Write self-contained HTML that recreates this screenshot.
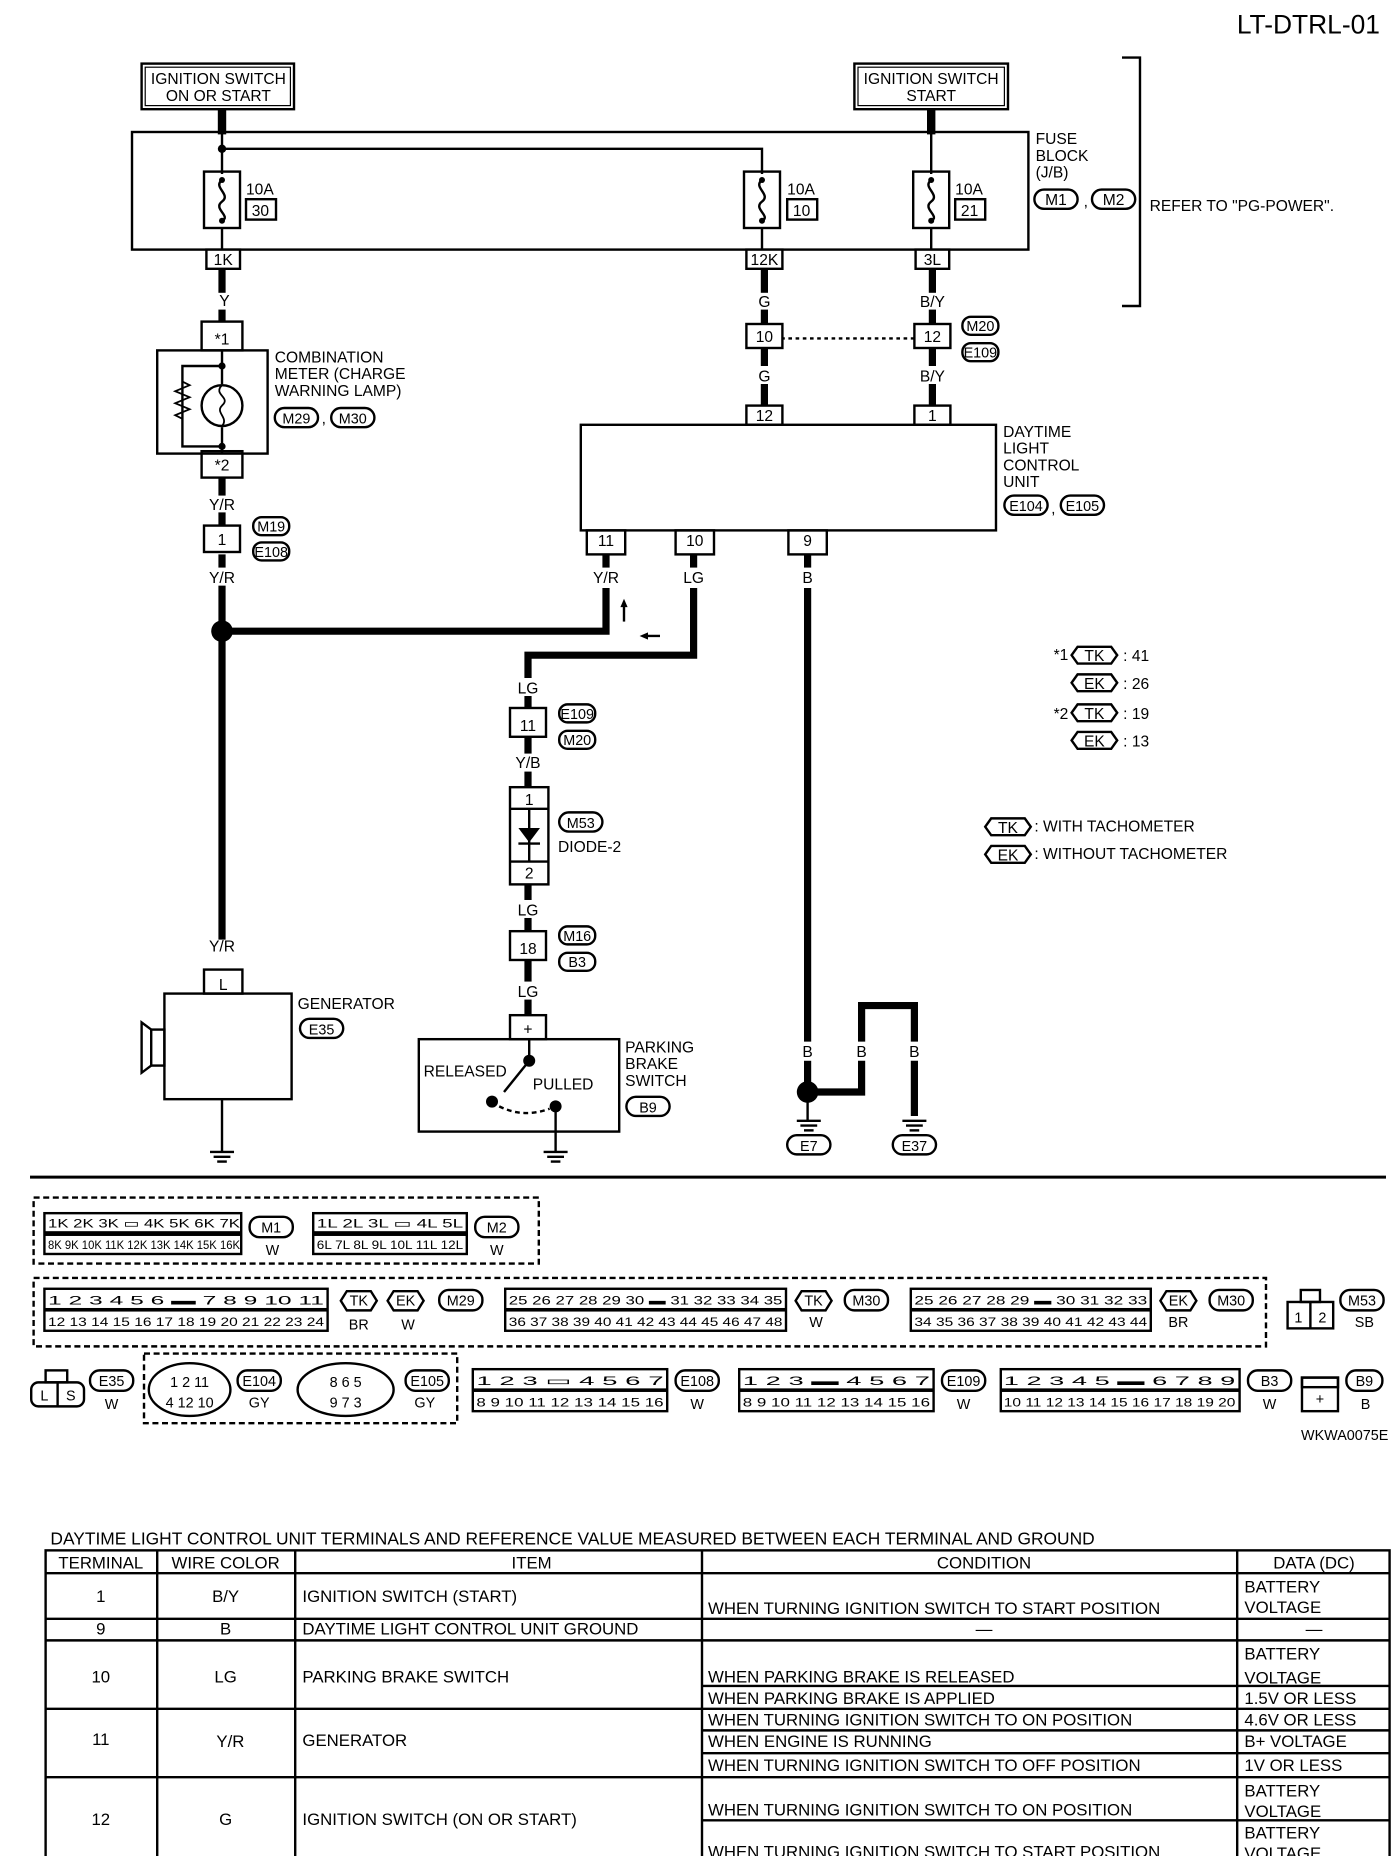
<!DOCTYPE html>
<html><head><meta charset="utf-8"><style>
html,body{margin:0;padding:0;background:#fff}
svg{display:block}
text{font-family:"Liberation Sans",sans-serif;fill:#000}
</style></head><body>
<svg width="1392" height="1856" viewBox="0 0 1160 1546.7" xmlns="http://www.w3.org/2000/svg">
<g font-size="13">
<text x="1150" y="28" font-size="22" text-anchor="end">LT-DTRL-01</text>

<rect x="118" y="53" width="127" height="38" fill="none" stroke="#000" stroke-width="2"/>
<rect x="121" y="56" width="121" height="32" fill="none" stroke="#000" stroke-width="1"/>
<text x="182" y="70" text-anchor="middle">IGNITION SWITCH</text>
<text x="182" y="84" text-anchor="middle">ON OR START</text>
<rect x="712" y="53" width="128" height="38" fill="none" stroke="#000" stroke-width="2"/>
<rect x="715" y="56" width="122" height="32" fill="none" stroke="#000" stroke-width="1"/>
<text x="776" y="70" text-anchor="middle">IGNITION SWITCH</text>
<text x="776" y="84" text-anchor="middle">START</text>
<line x1="185" y1="91" x2="185" y2="112" stroke="#000" stroke-width="7"/>
<line x1="776" y1="91" x2="776" y2="112" stroke="#000" stroke-width="7"/>

<rect x="110" y="110" width="747" height="98" fill="none" stroke="#000" stroke-width="2"/>
<polyline points="185,110 185,124 635,124 635,145" fill="none" stroke="#000" stroke-width="2"/>
<circle cx="185" cy="124" r="3.5"/>
<line x1="185" y1="124" x2="185" y2="145" stroke="#000" stroke-width="2"/>
<line x1="776" y1="110" x2="776" y2="145" stroke="#000" stroke-width="2"/>
<g stroke="#000" fill="none" stroke-width="2">
<rect x="170" y="143" width="30" height="47"/><rect x="620" y="143" width="30" height="47"/><rect x="761" y="143" width="30" height="47"/>
<path d="M185,150 c-8,6 8,12 0,18 c-8,6 8,12 0,16"/>
<path d="M635,150 c-8,6 8,12 0,18 c-8,6 8,12 0,16"/>
<path d="M776,150 c-8,6 8,12 0,18 c-8,6 8,12 0,16"/>
<line x1="185" y1="190" x2="185" y2="210"/><line x1="635" y1="190" x2="635" y2="210"/><line x1="776" y1="190" x2="776" y2="210"/>
<rect x="205" y="166" width="25" height="17"/><rect x="656" y="166" width="25" height="17"/><rect x="796" y="166" width="25" height="17"/>
</g>
<text x="205" y="162">10A</text><text x="656" y="162">10A</text><text x="796" y="162">10A</text>
<text x="217" y="180" text-anchor="middle">30</text><text x="668" y="180" text-anchor="middle">10</text><text x="808" y="180" text-anchor="middle">21</text>
<circle cx="185" cy="150" r="2.5"/><circle cx="185" cy="184" r="2.5"/><circle cx="635" cy="150" r="2.5"/><circle cx="635" cy="184" r="2.5"/><circle cx="776" cy="150" r="2.5"/><circle cx="776" cy="184" r="2.5"/>
<text x="863" y="120">FUSE</text><text x="863" y="134">BLOCK</text><text x="863" y="148">(J/B)</text>
<rect x="862" y="158" width="36" height="16" rx="8" fill="none" stroke="#000" stroke-width="2"/><text x="880" y="171" text-anchor="middle">M1</text>
<text x="903" y="172">,</text>
<rect x="910" y="158" width="36" height="16" rx="8" fill="none" stroke="#000" stroke-width="2"/><text x="928" y="171" text-anchor="middle">M2</text>
<text x="958" y="176">REFER TO "PG-POWER".</text>
<polyline points="935,48 950,48 950,255 935,255" fill="none" stroke="#000" stroke-width="2"/>

<g stroke="#000" stroke-width="2" fill="#fff">
<rect x="172" y="208" width="28" height="16"/><rect x="622" y="208" width="30" height="16"/><rect x="763" y="208" width="28" height="16"/>
</g>
<text x="186" y="221" text-anchor="middle">1K</text><text x="637" y="221" text-anchor="middle">12K</text><text x="777" y="221" text-anchor="middle">3L</text>

<g stroke="#000" stroke-width="6" fill="none">
<line x1="185" y1="224" x2="185" y2="244"/><line x1="185" y1="258" x2="185" y2="268"/>
<line x1="637" y1="224" x2="637" y2="244"/><line x1="637" y1="258" x2="637" y2="270"/>
<line x1="777" y1="224" x2="777" y2="244"/><line x1="777" y1="258" x2="777" y2="270"/>
<line x1="637" y1="290" x2="637" y2="305"/><line x1="637" y1="320" x2="637" y2="338"/>
<line x1="777" y1="290" x2="777" y2="305"/><line x1="777" y1="320" x2="777" y2="338"/>
<line x1="185" y1="398" x2="185" y2="413"/><line x1="185" y1="427" x2="185" y2="438"/>
<line x1="185" y1="462" x2="185" y2="473"/><line x1="185" y1="488" x2="185" y2="783"/>
<line x1="505" y1="462" x2="505" y2="473"/><line x1="578" y1="462" x2="578" y2="473"/><line x1="673" y1="462" x2="673" y2="473"/>
<polyline points="185,526 505,526 505,490"/>
<polyline points="578,490 578,546 440,546 440,565"/>
<line x1="440" y1="580" x2="440" y2="590"/><line x1="440" y1="614" x2="440" y2="628"/><line x1="440" y1="643" x2="440" y2="656"/>
<line x1="440" y1="737" x2="440" y2="750"/><line x1="440" y1="765" x2="440" y2="776"/><line x1="440" y1="800" x2="440" y2="818"/><line x1="440" y1="833" x2="440" y2="846"/>
<line x1="673" y1="490" x2="673" y2="868"/>
<line x1="673" y1="884" x2="673" y2="910"/>
<polyline points="676,910 718,910 718,884"/>
<polyline points="718,868 718,838 762,838 762,868"/>
<line x1="762" y1="884" x2="762" y2="930"/>
</g>
<circle cx="185" cy="526" r="9"/>
<circle cx="673" cy="910" r="9"/>
<text x="187" y="255" text-anchor="middle">Y</text><text x="637" y="256" text-anchor="middle">G</text><text x="777" y="256" text-anchor="middle">B/Y</text>
<text x="637" y="318" text-anchor="middle">G</text><text x="777" y="318" text-anchor="middle">B/Y</text>
<text x="185" y="425" text-anchor="middle">Y/R</text><text x="185" y="486" text-anchor="middle">Y/R</text>
<text x="505" y="486" text-anchor="middle">Y/R</text><text x="578" y="486" text-anchor="middle">LG</text><text x="673" y="486" text-anchor="middle">B</text>
<text x="440" y="578" text-anchor="middle">LG</text><text x="440" y="640" text-anchor="middle">Y/B</text>
<text x="440" y="763" text-anchor="middle">LG</text><text x="440" y="831" text-anchor="middle">LG</text>
<text x="185" y="793" text-anchor="middle">Y/R</text>
<text x="673" y="881" text-anchor="middle">B</text><text x="718" y="881" text-anchor="middle">B</text><text x="762" y="881" text-anchor="middle">B</text>
<line x1="520" y1="518" x2="520" y2="503" stroke="#000" stroke-width="2"/><path d="M520,499 l-3,7 h6z"/>
<line x1="550" y1="530" x2="537" y2="530" stroke="#000" stroke-width="2"/><path d="M533,530 l7,-3 v6z"/>
<line x1="645" y1="282" x2="768" y2="282" stroke="#000" stroke-width="2" stroke-dasharray="3,3"/>

<g stroke="#000" stroke-width="2" fill="#fff">
<rect x="622" y="270" width="30" height="20"/><rect x="762" y="270" width="30" height="20"/>
<rect x="622" y="338" width="30" height="16"/><rect x="762" y="338" width="30" height="16"/>
<rect x="170" y="438" width="30" height="22"/>
<rect x="425" y="590" width="30" height="24"/>
<rect x="425" y="776" width="30" height="24"/>
<rect x="168" y="268" width="34" height="24"/><rect x="168" y="376" width="34" height="22"/>
<rect x="489" y="442" width="32" height="20"/><rect x="563" y="442" width="32" height="20"/><rect x="657" y="442" width="32" height="20"/>
<rect x="170" y="808" width="32" height="20"/>
<rect x="425" y="846" width="30" height="20"/>
</g>
<text x="637" y="285" text-anchor="middle">10</text><text x="777" y="285" text-anchor="middle">12</text>
<text x="637" y="351" text-anchor="middle">12</text><text x="777" y="351" text-anchor="middle">1</text>
<text x="185" y="454" text-anchor="middle">1</text><text x="440" y="609" text-anchor="middle">11</text><text x="440" y="795" text-anchor="middle">18</text>
<text x="185" y="287" text-anchor="middle">*1</text><text x="185" y="392" text-anchor="middle">*2</text>
<text x="505" y="455" text-anchor="middle">11</text><text x="579" y="455" text-anchor="middle">10</text><text x="673" y="455" text-anchor="middle">9</text>
<text x="186" y="825" text-anchor="middle">L</text><text x="440" y="862" text-anchor="middle">+</text>
<g font-size="12" text-anchor="middle">
<g stroke="#000" stroke-width="2" fill="none">
<rect x="802" y="264" width="30" height="15" rx="7"/><rect x="802" y="286" width="30" height="15" rx="7"/>
<rect x="211" y="431" width="30" height="15" rx="7"/><rect x="211" y="452" width="30" height="15" rx="7"/>
<rect x="466" y="587" width="30" height="15" rx="7"/><rect x="466" y="609" width="30" height="15" rx="7"/>
<rect x="466" y="677" width="36" height="16" rx="8"/>
<rect x="466" y="772" width="30" height="15" rx="7"/><rect x="466" y="794" width="30" height="15" rx="7"/>
<rect x="229" y="340" width="36" height="16" rx="8"/><rect x="276" y="340" width="36" height="16" rx="8"/>
<rect x="837" y="413" width="36" height="16" rx="8"/><rect x="884" y="413" width="36" height="16" rx="8"/>
<rect x="250" y="849" width="36" height="16" rx="8"/><rect x="522" y="914" width="36" height="16" rx="8"/>
<rect x="656" y="946" width="36" height="16" rx="8"/><rect x="744" y="946" width="36" height="16" rx="8"/>
</g>
<text x="817" y="276">M20</text><text x="817" y="298">E109</text><text x="226" y="443">M19</text><text x="226" y="464">E108</text>
<text x="481" y="599">E109</text><text x="481" y="621">M20</text><text x="484" y="690">M53</text><text x="481" y="784">M16</text><text x="481" y="806">B3</text>
<text x="247" y="353">M29</text><text x="294" y="353">M30</text><text x="855" y="426">E104</text><text x="902" y="426">E105</text>
<text x="268" y="862">E35</text><text x="540" y="927">B9</text><text x="674" y="959">E7</text><text x="762" y="959">E37</text>
</g>
<text x="268" y="353">,</text><text x="876" y="428">,</text>

<rect x="131" y="292" width="92" height="86" fill="none" stroke="#000" stroke-width="2"/>
<line x1="185" y1="292" x2="185" y2="320" stroke="#000" stroke-width="2"/><line x1="185" y1="356" x2="185" y2="378" stroke="#000" stroke-width="2"/>
<circle cx="185" cy="338" r="17" fill="none" stroke="#000" stroke-width="2"/>
<path d="M185,321 c-8,8 8,10 0,17 c-6,6 6,10 0,17" fill="none" stroke="#000" stroke-width="1.5"/>
<polyline points="185,305 152,305 152,372 185,372" fill="none" stroke="#000" stroke-width="2"/>
<path d="M152,318 l6,3 -12,5 12,5 -12,5 12,5 -12,5 6,3" fill="none" stroke="#000" stroke-width="1.5"/>
<circle cx="185" cy="305" r="3"/><circle cx="185" cy="372" r="3"/>
<text x="229" y="302">COMBINATION</text><text x="229" y="316">METER (CHARGE</text><text x="229" y="330">WARNING LAMP)</text>

<rect x="484" y="354" width="346" height="88" fill="none" stroke="#000" stroke-width="2"/>
<text x="836" y="364">DAYTIME</text><text x="836" y="378">LIGHT</text><text x="836" y="392">CONTROL</text><text x="836" y="406">UNIT</text>

<rect x="425" y="656" width="32" height="81" fill="none" stroke="#000" stroke-width="2"/>
<line x1="425" y1="674" x2="457" y2="674" stroke="#000" stroke-width="2"/><line x1="425" y1="718" x2="457" y2="718" stroke="#000" stroke-width="2"/>
<text x="441" y="671" text-anchor="middle">1</text><text x="441" y="732" text-anchor="middle">2</text>
<line x1="441" y1="674" x2="441" y2="718" stroke="#000" stroke-width="2"/>
<path d="M432,690 h18 l-9,12z"/><line x1="432" y1="703" x2="450" y2="703" stroke="#000" stroke-width="2"/>
<text x="465" y="710">DIODE-2</text>

<text x="878" y="550">*1</text><text x="878" y="599">*2</text>
<g stroke="#000" stroke-width="2" fill="none">
<path d="M898,539 h28 l5,7 -5,7 h-28 l-5,-7z"/><path d="M898,562 h28 l5,7 -5,7 h-28 l-5,-7z"/>
<path d="M898,587 h28 l5,7 -5,7 h-28 l-5,-7z"/><path d="M898,610 h28 l5,7 -5,7 h-28 l-5,-7z"/>
<path d="M826,682 h28 l5,7 -5,7 h-28 l-5,-7z"/><path d="M826,705 h28 l5,7 -5,7 h-28 l-5,-7z"/>
</g>
<text x="912" y="551" text-anchor="middle">TK</text><text x="912" y="574" text-anchor="middle">EK</text>
<text x="912" y="599" text-anchor="middle">TK</text><text x="912" y="622" text-anchor="middle">EK</text>
<text x="840" y="694" text-anchor="middle">TK</text><text x="840" y="717" text-anchor="middle">EK</text>
<text x="936" y="551">: 41</text><text x="936" y="574">: 26</text><text x="936" y="599">: 19</text><text x="936" y="622">: 13</text>
<text x="862" y="693">: WITH TACHOMETER</text><text x="862" y="716">: WITHOUT TACHOMETER</text>

<rect x="137" y="828" width="106" height="88" fill="none" stroke="#000" stroke-width="2"/>
<rect x="126" y="858" width="11" height="30" fill="none" stroke="#000" stroke-width="2"/>
<path d="M126,858 l-8,-6 v42 l8,-6" fill="none" stroke="#000" stroke-width="2"/>
<text x="248" y="841">GENERATOR</text>
<line x1="185" y1="916" x2="185" y2="960" stroke="#000" stroke-width="2"/>
<g stroke="#000" stroke-width="2"><line x1="175" y1="960" x2="195" y2="960"/><line x1="178" y1="964" x2="192" y2="964"/><line x1="181" y1="968" x2="189" y2="968"/>
<line x1="453" y1="960" x2="473" y2="960"/><line x1="456" y1="964" x2="470" y2="964"/><line x1="459" y1="968" x2="467" y2="968"/>
<line x1="664" y1="934" x2="684" y2="934"/><line x1="667" y1="938" x2="681" y2="938"/><line x1="670" y1="942" x2="678" y2="942"/>
<line x1="752" y1="934" x2="772" y2="934"/><line x1="755" y1="938" x2="769" y2="938"/><line x1="758" y1="942" x2="766" y2="942"/></g>
<line x1="673" y1="918" x2="673" y2="934" stroke="#000" stroke-width="2"/>

<rect x="349" y="866" width="167" height="77" fill="none" stroke="#000" stroke-width="2"/>
<line x1="441" y1="866" x2="441" y2="884" stroke="#000" stroke-width="2"/>
<circle cx="441" cy="884" r="5"/><circle cx="410" cy="918" r="5"/><circle cx="463" cy="922" r="5"/>
<line x1="441" y1="884" x2="420" y2="910" stroke="#000" stroke-width="2"/>
<path d="M416,922 q20,10 42,2" fill="none" stroke="#000" stroke-width="2" stroke-dasharray="4,3"/>
<line x1="463" y1="922" x2="463" y2="960" stroke="#000" stroke-width="2"/>
<text x="353" y="897">RELEASED</text><text x="444" y="908">PULLED</text>
<text x="521" y="877">PARKING</text><text x="521" y="891">BRAKE</text><text x="521" y="905">SWITCH</text>

<line x1="25" y1="981" x2="1155" y2="981" stroke="#000" stroke-width="2.5"/>
</g>

<g font-size="10" text-anchor="middle" stroke="none">
<rect x="28" y="998" width="421" height="55" fill="none" stroke="#000" stroke-width="2" stroke-dasharray="5,3"/>
<rect x="28" y="1065" width="1027" height="57" fill="none" stroke="#000" stroke-width="2" stroke-dasharray="5,3"/>
<rect x="120" y="1128" width="261" height="58" fill="none" stroke="#000" stroke-width="2" stroke-dasharray="5,3"/>
<rect x="36" y="1010" width="166" height="36" fill="#000"/>
<rect x="260" y="1010" width="130" height="36" fill="#000"/>
<rect x="36" y="1073" width="238" height="37" fill="#000"/>
<rect x="420" y="1073" width="236" height="37" fill="#000"/>
<rect x="758" y="1073" width="202" height="37" fill="#000"/>
<rect x="393" y="1140" width="164" height="37" fill="#000"/>
<rect x="615" y="1140" width="164" height="37" fill="#000"/>
<rect x="833" y="1140" width="201" height="37" fill="#000"/>
<g fill="#fff">
<rect x="38" y="1012" width="162" height="14"/><rect x="38" y="1030" width="162" height="14"/>
<rect x="262" y="1012" width="126" height="14"/><rect x="262" y="1030" width="126" height="14"/>
<rect x="38" y="1075" width="234" height="15"/><rect x="38" y="1093" width="234" height="15"/>
<rect x="422" y="1075" width="232" height="15"/><rect x="422" y="1093" width="232" height="15"/>
<rect x="760" y="1075" width="198" height="15"/><rect x="760" y="1093" width="198" height="15"/>
<rect x="395" y="1142" width="160" height="15"/><rect x="395" y="1160" width="160" height="15"/>
<rect x="617" y="1142" width="160" height="15"/><rect x="617" y="1160" width="160" height="15"/>
<rect x="835" y="1142" width="197" height="15"/><rect x="835" y="1160" width="197" height="15"/>
</g>
<text x="120" y="1023" textLength="160" lengthAdjust="spacingAndGlyphs">1K 2K 3K ▭ 4K 5K 6K 7K</text>
<text x="120" y="1041" textLength="160" lengthAdjust="spacingAndGlyphs">8K 9K 10K 11K 12K 13K 14K 15K 16K</text>
<text x="325" y="1023" textLength="122" lengthAdjust="spacingAndGlyphs">1L 2L 3L ▭ 4L 5L</text>
<text x="325" y="1041" textLength="122" lengthAdjust="spacingAndGlyphs">6L 7L 8L 9L 10L 11L 12L</text>
<text x="155" y="1087" textLength="230" lengthAdjust="spacingAndGlyphs">1 2 3 4 5 6 ▬ 7 8 9 10 11</text>
<text x="155" y="1105" textLength="230" lengthAdjust="spacingAndGlyphs">12 13 14 15 16 17 18 19 20 21 22 23 24</text>
<text x="538" y="1087" textLength="228" lengthAdjust="spacingAndGlyphs">25 26 27 28 29 30 ▬ 31 32 33 34 35</text>
<text x="538" y="1105" textLength="228" lengthAdjust="spacingAndGlyphs">36 37 38 39 40 41 42 43 44 45 46 47 48</text>
<text x="859" y="1087" textLength="194" lengthAdjust="spacingAndGlyphs">25 26 27 28 29 ▬ 30 31 32 33</text>
<text x="859" y="1105" textLength="194" lengthAdjust="spacingAndGlyphs">34 35 36 37 38 39 40 41 42 43 44</text>
<text x="475" y="1154" textLength="156" lengthAdjust="spacingAndGlyphs">1 2 3 ▭ 4 5 6 7</text>
<text x="475" y="1172" textLength="156" lengthAdjust="spacingAndGlyphs">8 9 10 11 12 13 14 15 16</text>
<text x="697" y="1154" textLength="156" lengthAdjust="spacingAndGlyphs">1 2 3 ▬ 4 5 6 7</text>
<text x="697" y="1172" textLength="156" lengthAdjust="spacingAndGlyphs">8 9 10 11 12 13 14 15 16</text>
<text x="933" y="1154" textLength="193" lengthAdjust="spacingAndGlyphs">1 2 3 4 5 ▬ 6 7 8 9</text>
<text x="933" y="1172" textLength="193" lengthAdjust="spacingAndGlyphs">10 11 12 13 14 15 16 17 18 19 20</text>
<g font-size="12">
<g stroke="#000" stroke-width="2" fill="none">
<rect x="208" y="1014" width="36" height="17" rx="8"/><rect x="396" y="1014" width="36" height="17" rx="8"/>
<rect x="366" y="1075" width="36" height="17" rx="8"/><rect x="704" y="1075" width="36" height="17" rx="8"/><rect x="1008" y="1075" width="36" height="17" rx="8"/>
<rect x="1117" y="1075" width="36" height="17" rx="8"/>
<rect x="75" y="1142" width="36" height="17" rx="8"/><rect x="198" y="1142" width="36" height="17" rx="8"/><rect x="338" y="1142" width="36" height="17" rx="8"/>
<rect x="563" y="1142" width="36" height="17" rx="8"/><rect x="785" y="1142" width="36" height="17" rx="8"/><rect x="1040" y="1142" width="36" height="17" rx="8"/><rect x="1122" y="1142" width="30" height="17" rx="8"/>
<path d="M289,1076 h20 l5,8 -5,8 h-20 l-5,-8z"/><path d="M328,1076 h20 l5,8 -5,8 h-20 l-5,-8z"/>
<path d="M668,1076 h20 l5,8 -5,8 h-20 l-5,-8z"/><path d="M972,1076 h20 l5,8 -5,8 h-20 l-5,-8z"/>
<rect x="1073" y="1085" width="38" height="22"/><line x1="1092" y1="1085" x2="1092" y2="1107"/><rect x="1084" y="1075" width="16" height="10"/>
<rect x="1085" y="1148" width="30" height="28"/><rect x="1085" y="1148" width="30" height="8"/>
<rect x="26" y="1152" width="44" height="20" rx="6"/><line x1="48" y1="1152" x2="48" y2="1172"/><rect x="38" y="1142" width="18" height="10"/>
<ellipse cx="158" cy="1158" rx="34" ry="22"/><ellipse cx="288" cy="1158" rx="40" ry="22"/>
</g>
<text x="226" y="1027">M1</text><text x="414" y="1027">M2</text><text x="384" y="1088">M29</text><text x="722" y="1088">M30</text><text x="1026" y="1088">M30</text><text x="1135" y="1088">M53</text>
<text x="299" y="1088">TK</text><text x="338" y="1088">EK</text><text x="678" y="1088">TK</text><text x="982" y="1088">EK</text>
<text x="227" y="1046">W</text><text x="414" y="1046">W</text><text x="299" y="1108">BR</text><text x="340" y="1108">W</text><text x="680" y="1106">W</text><text x="982" y="1106">BR</text><text x="1137" y="1106">SB</text>
<text x="1082" y="1102">1</text><text x="1102" y="1102">2</text>
<text x="93" y="1155">E35</text><text x="216" y="1155">E104</text><text x="356" y="1155">E105</text><text x="581" y="1155">E108</text><text x="803" y="1155">E109</text><text x="1058" y="1155">B3</text><text x="1137" y="1155">B9</text>
<text x="93" y="1174">W</text><text x="216" y="1173">GY</text><text x="354" y="1173">GY</text><text x="581" y="1174">W</text><text x="803" y="1174">W</text><text x="1058" y="1174">W</text><text x="1138" y="1174">B</text>
<text x="1100" y="1170">+</text><text x="37" y="1167">L</text><text x="59" y="1167">S</text>
<text x="158" y="1156">1 2 11</text><text x="158" y="1173">4 12 10</text>
<text x="288" y="1156">8   6 5</text><text x="288" y="1173">9   7 3</text>
<text x="1157" y="1200" text-anchor="end">WKWA0075E</text>
</g>
</g>

<g font-size="14">
<text x="42" y="1287" font-size="14.5">DAYTIME LIGHT CONTROL UNIT TERMINALS AND REFERENCE VALUE MEASURED BETWEEN EACH TERMINAL AND GROUND</text>
<g stroke="#000" stroke-width="2" fill="none">
<rect x="38" y="1292" width="1120" height="261"/>
<line x1="38" y1="1311" x2="1158" y2="1311"/><line x1="38" y1="1349" x2="1158" y2="1349"/><line x1="38" y1="1367" x2="1158" y2="1367"/>
<line x1="38" y1="1424" x2="1158" y2="1424"/><line x1="38" y1="1481" x2="1158" y2="1481"/>
<line x1="131" y1="1292" x2="131" y2="1553"/><line x1="246" y1="1292" x2="246" y2="1553"/><line x1="585" y1="1292" x2="585" y2="1553"/><line x1="1031" y1="1292" x2="1031" y2="1553"/>
<line x1="585" y1="1405" x2="1158" y2="1405"/><line x1="585" y1="1442" x2="1158" y2="1442"/><line x1="585" y1="1461" x2="1158" y2="1461"/><line x1="585" y1="1517" x2="1158" y2="1517"/>
</g>
<g text-anchor="middle">
<text x="84" y="1307">TERMINAL</text><text x="188" y="1307">WIRE COLOR</text><text x="443" y="1307">ITEM</text><text x="820" y="1307">CONDITION</text><text x="1095" y="1307">DATA (DC)</text>
<text x="84" y="1335">1</text><text x="188" y="1335">B/Y</text>
<text x="84" y="1362">9</text><text x="188" y="1362">B</text><text x="820" y="1362">—</text><text x="1095" y="1362">—</text>
<text x="84" y="1402">10</text><text x="188" y="1402">LG</text>
<text x="84" y="1454">11</text><text x="192" y="1456">Y/R</text>
<text x="84" y="1521">12</text><text x="188" y="1521">G</text>
</g>
<text x="252" y="1335">IGNITION SWITCH (START)</text>
<text x="252" y="1362">DAYTIME LIGHT CONTROL UNIT GROUND</text>
<text x="252" y="1402">PARKING BRAKE SWITCH</text>
<text x="252" y="1455">GENERATOR</text>
<text x="252" y="1521">IGNITION SWITCH (ON OR START)</text>
<text x="590" y="1345">WHEN TURNING IGNITION SWITCH TO START POSITION</text>
<text x="590" y="1402">WHEN PARKING BRAKE IS RELEASED</text>
<text x="590" y="1420">WHEN PARKING BRAKE IS APPLIED</text>
<text x="590" y="1438">WHEN TURNING IGNITION SWITCH TO ON POSITION</text>
<text x="590" y="1456">WHEN ENGINE IS RUNNING</text>
<text x="590" y="1476">WHEN TURNING IGNITION SWITCH TO OFF POSITION</text>
<text x="590" y="1513">WHEN TURNING IGNITION SWITCH TO ON POSITION</text>
<text x="590" y="1548">WHEN TURNING IGNITION SWITCH TO START POSITION</text>
<text x="1037" y="1327">BATTERY</text><text x="1037" y="1344">VOLTAGE</text>
<text x="1037" y="1383">BATTERY</text><text x="1037" y="1403">VOLTAGE</text>
<text x="1037" y="1420">1.5V OR LESS</text><text x="1037" y="1438">4.6V OR LESS</text><text x="1037" y="1456">B+ VOLTAGE</text><text x="1037" y="1476">1V OR LESS</text>
<text x="1037" y="1497">BATTERY</text><text x="1037" y="1514">VOLTAGE</text>
<text x="1037" y="1532">BATTERY</text><text x="1037" y="1549">VOLTAGE</text>
</g>
</svg>
</body></html>
